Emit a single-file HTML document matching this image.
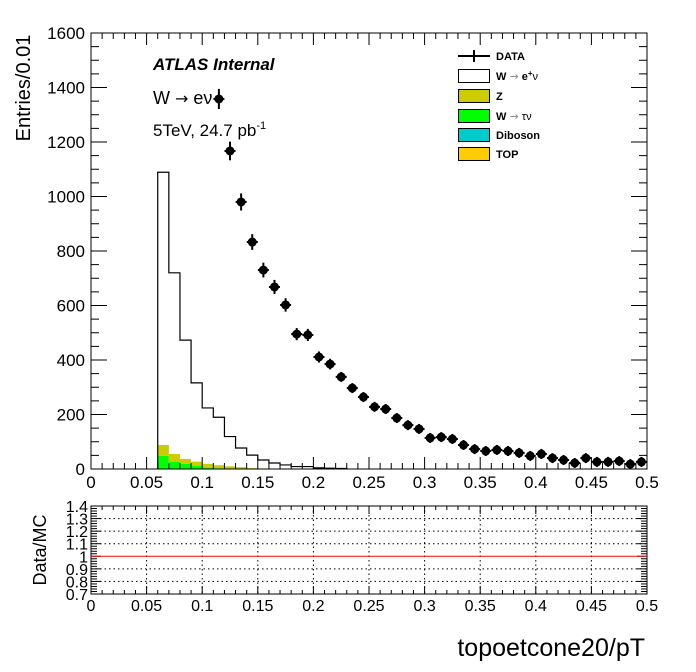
<!DOCTYPE html>
<html><head><meta charset="utf-8"><style>
body{margin:0;background:#fff;}
svg{display:block;font-family:"Liberation Sans",Arial,sans-serif;}
</style></head><body>
<svg id="c" width="696" height="672"></svg>
<script>
const dataX=[0.115,0.125,0.135,0.145,0.155,0.165,0.175,0.185,0.195,0.205,0.215,0.225,0.235,0.245,0.255,0.265,0.275,0.285,0.295,0.305,0.315,0.325,0.335,0.345,0.355,0.365,0.375,0.385,0.395,0.405,0.415,0.425,0.435,0.445,0.455,0.465,0.475,0.485,0.495];
const dataY=[1358,1167,980,833,730,668,602,495,492,411,385,338,297,264,228,220,187,161,147,114,117,110,88,73,66,70,66,59,48,55,40,33,22,40,26,26,29,18,26];
const binLo=[0.06,0.07,0.08,0.09,0.10,0.11,0.12,0.13,0.14,0.15,0.16,0.17,0.18,0.19,0.20,0.21,0.22];
const wenu=[1001,665,436,289,205,176,109,70,48,31,21,14,9,9,4,3,2];
const zee=[40,28,18,16,14,11,8,6,3,2,1,1,0,0,0,0,0];
const wtau=[48,27,19,11,5,3,2,1,0,0,0,0,0,0,0,0,0];
const yTicks=[0,200,400,600,800,1000,1200,1400,1600];
const xTicks=[0,0.05,0.1,0.15,0.2,0.25,0.3,0.35,0.4,0.45,0.5];
const rTicks=[0.7,0.8,0.9,1,1.1,1.2,1.3,1.4];

const svg=document.getElementById('c');
const NS='http://www.w3.org/2000/svg';
function mk(t,a,p){const e=document.createElementNS(NS,t);for(const k in a)e.setAttribute(k,a[k]);(p||svg).appendChild(e);return e;}
const L=91,R=647,T=33,B=469,RT=506,RB=594;
const sx=v=>L+(v-0)/0.5*(R-L);
const sy=v=>B-v/1600*(B-T);
const ry=v=>RB-(v-0.7)/0.7*(RB-RT);

const gS=mk('g',{});  
binLo.forEach((x0,i)=>{
  const x1=x0+0.01, a=wtau[i], b=a+zee[i];
  if(a>0){const r=mk('rect',{x:sx(x0),y:sy(a),width:sx(x1)-sx(x0),height:sy(0)-sy(a),fill:'#00ff00'},gS);}
  if(zee[i]>0){const r=mk('rect',{x:sx(x0),y:sy(b),width:sx(x1)-sx(x0),height:sy(a)-sy(b),fill:'#cccc00'},gS);}
});
let d='M'+sx(binLo[0])+','+sy(0);
binLo.forEach((x0,i)=>{const c=wtau[i]+zee[i]+wenu[i];d+=' L'+sx(x0)+','+sy(c)+' L'+sx(x0+0.01)+','+sy(c);});
d+=' L'+sx(binLo[binLo.length-1]+0.01)+','+sy(0);
const wl=mk('path',{d:d,fill:'none',stroke:'#000','stroke-width':1.2},gS);



const gD=mk('g',{});
dataX.forEach((x,i)=>{
  const cx=sx(x),cy=sy(dataY[i]),e=Math.sqrt(dataY[i])*0.2725;
  const g=mk('g',{},gD);
  
  
  mk('line',{x1:cx-5.5,x2:cx+5.5,y1:cy,y2:cy,stroke:'#000','stroke-width':2},g);
  mk('line',{x1:cx,x2:cx,y1:cy-Math.max(e,5),y2:cy+Math.max(e,5),stroke:'#000','stroke-width':2},g);
  mk('circle',{cx:cx,cy:cy,r:4.5,fill:'#000'},g);
});

mk('rect',{x:L,y:T,width:R-L,height:B-T,fill:'none',stroke:'#000','stroke-width':1});
mk('rect',{x:L,y:RT,width:R-L,height:RB-RT,fill:'none',stroke:'#000','stroke-width':1});
for(let v=0;v<=1600;v+=50){const maj=v%200==0,l=maj?16:8;mk('line',{x1:L,x2:L+l,y1:sy(v),y2:sy(v),stroke:'#000'});mk('line',{x1:R,x2:R-l,y1:sy(v),y2:sy(v),stroke:'#000'});}
for(let k=0;k<=50;k++){const v=k*0.01,maj=k%5==0,l=maj?12:6;mk('line',{x1:sx(v),x2:sx(v),y1:B,y2:B-l,stroke:'#000'});mk('line',{x1:sx(v),x2:sx(v),y1:T,y2:T+l,stroke:'#000'});
 mk('line',{x1:sx(v),x2:sx(v),y1:RB,y2:RB-(maj?8:4),stroke:'#000'});mk('line',{x1:sx(v),x2:sx(v),y1:RT,y2:RT+(maj?8:4),stroke:'#000'});}
yTicks.forEach(v=>{const t=mk('text',{x:85,y:sy(v)+6,'text-anchor':'end','font-size':17});t.textContent=v;});
xTicks.forEach(v=>{const t=mk('text',{x:sx(v),y:488,'text-anchor':'middle','font-size':17});t.textContent=v;
 const t2=mk('text',{x:sx(v),y:611,'text-anchor':'middle','font-size':16});t2.textContent=v;
 if(v>0&&v<0.5)mk('line',{x1:sx(v),x2:sx(v),y1:RT,y2:RB,stroke:'#000','stroke-dasharray':'1.5,3'});});
for(let k=0;k<=35;k++){const v=0.7+k*0.02,maj=k%5==0;mk('line',{x1:L,x2:L+(maj?10:6),y1:ry(v),y2:ry(v),stroke:'#000'});mk('line',{x1:R,x2:R-(maj?10:6),y1:ry(v),y2:ry(v),stroke:'#000'});}
rTicks.forEach(v=>{if(v>0.7&&v<1.4&&v!=1)mk('line',{x1:L,x2:R,y1:ry(v),y2:ry(v),stroke:'#000','stroke-dasharray':'1.5,3'});
 const t=mk('text',{x:88,y:ry(v)+6,'text-anchor':'end','font-size':16});t.textContent=(v==1?'1':v.toFixed(1));});
const rl=mk('line',{x1:L,x2:R,y1:ry(1),y2:ry(1),stroke:'#f00','stroke-width':1});


</script>
<svg width="696" height="672" style="position:absolute;left:0;top:0;font-family:'Liberation Sans',Arial,sans-serif">
<text transform="translate(30,88) rotate(-90)" text-anchor="middle" font-size="20">Entries/0.01</text>
<text transform="translate(46,550) rotate(-90)" text-anchor="middle" font-size="18">Data/MC</text>
<text x="645" y="656" text-anchor="end" font-size="25">topoetcone20/pT</text>
<text x="153" y="70" font-size="17" font-weight="bold" font-style="italic">ATLAS Internal</text>
<text x="153" y="104" font-size="18">W <tspan font-family="DejaVu Sans" font-size="16">→</tspan> eν</text>
<text x="153" y="136" font-size="17">5TeV, 24.7 pb<tspan dy="-7" font-size="11">-1</tspan></text>
<g font-size="11" font-weight="bold">
<g><line x1="458" x2="490" y1="56" y2="56" stroke="#000" stroke-width="2"/><line x1="474" x2="474" y1="50" y2="62" stroke="#000" stroke-width="2"/><text x="496" y="60">DATA</text></g>
<g><rect x="458.5" y="69.5" width="31" height="13" fill="#fff" stroke="#000"/><text x="496" y="80">W <tspan font-weight="normal" fill="#888" font-family="DejaVu Sans">→</tspan> e<tspan dy="-4" font-size="8">+</tspan><tspan dy="4" font-weight="normal">ν</tspan></text></g>
<g><rect x="458.5" y="89.5" width="31" height="13" fill="#cccc00" stroke="#000"/><text x="496" y="100">Z</text></g>
<g><rect x="458.5" y="109.5" width="31" height="13" fill="#00ff00" stroke="#000"/><text x="496" y="120">W <tspan font-weight="normal" fill="#888" font-family="DejaVu Sans">→</tspan> <tspan font-weight="normal">τν</tspan></text></g>
<g><rect x="458.5" y="128.5" width="31" height="13" fill="#00cccc" stroke="#000"/><text x="496" y="139">Diboson</text></g>
<g><rect x="458.5" y="147.5" width="31" height="13" fill="#ffcc00" stroke="#000"/><text x="496" y="158">TOP</text></g>
</g>
</svg>
</body></html>
